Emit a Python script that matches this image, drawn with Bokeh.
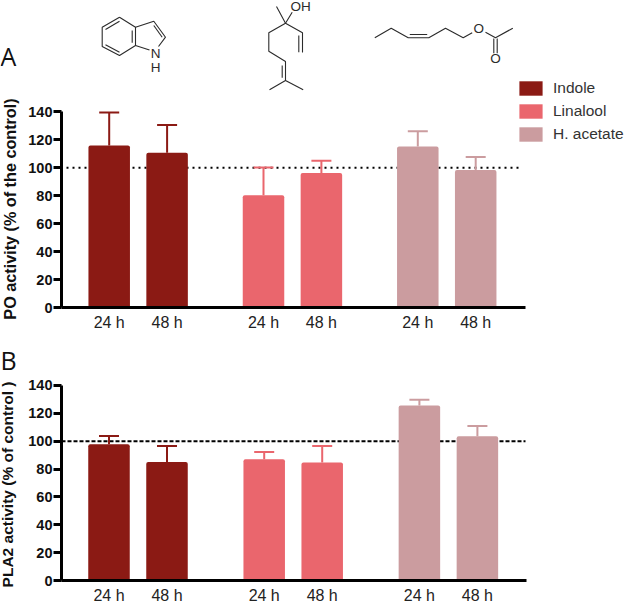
from math import pi
from bokeh.plotting import figure
from bokeh.layouts import column, row
from bokeh.models import Range1d, LinearAxis, FixedTicker, Legend, LegendItem
from bokeh.core.properties import value
from bokeh.embed import file_html
from bokeh.resources import INLINE

compounds = ["Indole", "Linalool", "H. acetate"]
times = ["24 h", "48 h"]
colors = ["#8B1A14", "#EA666D", "#CB9C9F"]
y_ticks = [0, 20, 40, 60, 80, 100, 120, 140]

po_mean = [[116.0, 110.7], [80.4, 96.3], [115.2, 98.5]]
po_upper = [[139.6, 130.7], [100.2, 105.0], [126.2, 107.8]]
pla2_mean = [[97.9, 85.0], [87.0, 84.7], [125.7, 103.6]]
pla2_upper = [[103.8, 96.5], [92.3, 96.5], [129.7, 111.0]]

panel_letters = ["A", "B"]
y_title_a = "PO activity (% of the control)"
y_title_b = "PLA2 activity (% of control )"

INK = "#2b2b2b"
SANS = "Liberation Sans"
LEFT_W = 25

# molecule drawings, in page pixels
indole_bonds = [
    [(119, 16.7), (101.7, 26.7), (101.7, 46), (119, 55), (135, 45), (135, 26.7), (119, 16.7)],
    [(135, 26.7), (153.3, 20.7), (165, 36.7), (158, 46)],
    [(135, 45), (149, 49.5)],
    [(119, 20.7), (105, 29), ],
    [(105, 44.3), (119, 51.7)],
    [(131.7, 30), (131.7, 42.3)],
    [(153.3, 25), (161.7, 36.7)],
]
indole_atoms = [("N", 155, 52.7), ("H", 155, 66.7)]
linalool_bonds = [
    [(276, 6), (285, 22.7), (302, 32.3), (302, 52)],
    [(291.7, 11.7), (285, 22.7), (268.3, 32.3), (268.3, 50.7), (285, 61), (285, 80), (269, 89.3)],
    [(285, 80), (302.7, 89.3)],
    [(298.3, 35), (298.3, 51.7)],
    [(281.7, 65), (281.7, 77.3)],
]
linalool_atoms = [("OH", 300, 6)]
acetate_bonds = [
    [(374.3, 37.3), (390.7, 27.7), (407.7, 37.3), (428.3, 37.3), (445, 27.7), (462.7, 37.3), (471.7, 32.3)],
    [(409.3, 34), (426.7, 34)],
    [(485, 31.7), (495, 37.3), (512.3, 27.7)],
    [(493.3, 38), (493.3, 52.7)],
    [(496.7, 38), (496.7, 52.7)],
]
acetate_atoms = [("O", 478.3, 28.3), ("O", 495, 58.3)]


def make_panel(means, uppers, height, bottom, px_per_unit, slot, gap, first, axis_end,
               line_start, line_end, dash):
    frame_h = height - bottom
    x0 = (61 - first) / slot
    x1 = (625 - first) / slot
    p = figure(width=625 - LEFT_W, height=height, output_backend="svg", toolbar_location=None,
               x_range=Range1d(x0, x1), y_range=Range1d(0, frame_h / px_per_unit),
               x_axis_location=None, y_axis_location=None,
               min_border_left=61 - LEFT_W, min_border_right=0, min_border_top=0, min_border_bottom=bottom,
               outline_line_color=None, background_fill_color="white")
    p.grid.visible = False
    p.extra_x_ranges["px"] = Range1d(61, 625)
    p.extra_y_ranges["py"] = Range1d(frame_h, 0)

    p.line([line_start, line_end], [100, 100], x_range_name="px", line_color="black",
           line_width=2, line_dash=dash)

    centers = []
    renderers = []
    for g, name in enumerate(compounds):
        xs = [first_x + g * gap / slot for first_x in (0, 1)]
        centers += xs
        tops = means[g]
        ups = uppers[g]
        p.segment(xs, tops, xs, ups, line_color=colors[g], line_width=2)
        p.segment([x - 10 / slot for x in xs], ups, [x + 10 / slot for x in xs], ups,
                  line_color=colors[g], line_width=2)
        r = p.vbar(x=xs, top=tops, bottom=0, width=41.5 / slot, fill_color=colors[g],
                   line_color=None, border_radius=2)
        renderers.append(r)

    yax = LinearAxis(ticker=FixedTicker(ticks=y_ticks), bounds=(0, 140))
    yax.axis_line_width = 3
    yax.axis_line_color = "black"
    yax.major_tick_line_width = 3
    yax.major_tick_line_color = "black"
    yax.major_tick_in = 0
    yax.major_tick_out = 8
    yax.minor_tick_line_color = None
    yax.major_label_standoff = 1
    yax.major_label_text_font = SANS
    yax.major_label_text_font_style = "bold"
    yax.major_label_text_font_size = "14.5px"
    yax.major_label_text_color = "#111111"
    p.add_layout(yax, "left")

    xax = LinearAxis(ticker=FixedTicker(ticks=centers),
                     major_label_overrides={c: times[i % 2] for i, c in enumerate(centers)},
                     bounds=(x0 - 9 / slot, (axis_end - first) / slot))
    xax.axis_line_width = 3
    xax.axis_line_color = "black"
    xax.major_tick_line_color = None
    xax.major_tick_in = 0
    xax.major_tick_out = 0
    xax.minor_tick_line_color = None
    xax.major_label_standoff = 6
    xax.major_label_text_font = SANS
    xax.major_label_text_font_size = "16px"
    xax.major_label_text_color = "#222222"
    p.add_layout(xax, "below")
    return p, renderers


def draw_molecule(p, bonds, atoms):
    p.multi_line([[q[0] for q in b] for b in bonds], [[q[1] for q in b] for b in bonds],
                 x_range_name="px", y_range_name="py", line_color=INK, line_width=1.1)
    for text, x, y in atoms:
        p.text([x], [y], text=[text], x_range_name="px", y_range_name="py",
               text_font=value(SANS), text_font_size="13.5px", text_color=INK,
               text_align="center", text_baseline="middle")


pa, rend = make_panel(po_mean, po_upper, 338, 31, 1.397, 57.9, 154.3, 108.7, 525, 66, 520, "2 4")
pb, _ = make_panel(pla2_mean, pla2_upper, 268, 22, 1.416, 58.0, 155.2, 108.5, 526, 61, 525, "4 2")

draw_molecule(pa, indole_bonds, indole_atoms)
draw_molecule(pa, linalool_bonds, linalool_atoms)
draw_molecule(pa, acetate_bonds, acetate_atoms)

legend = Legend(items=[LegendItem(label=n, renderers=[r]) for n, r in zip(compounds, rend)],
                location=(455, 164), orientation="vertical", border_line_color=None,
                background_fill_alpha=0, padding=0, margin=0, spacing=5,
                glyph_width=29, glyph_height=18, label_standoff=8, label_height=18,
                label_text_font=SANS, label_text_font_size="15.5px", label_text_color="#333333")
pa.add_layout(legend)

# narrow strip on the left for panel letters and the rotated y titles (page pixels)
strip = figure(width=LEFT_W, height=606, output_backend="svg", toolbar_location=None,
               x_range=Range1d(0, LEFT_W), y_range=Range1d(606, 0),
               x_axis_location=None, y_axis_location=None,
               min_border_left=0, min_border_right=0, min_border_top=0, min_border_bottom=0,
               outline_line_color=None)
strip.grid.visible = False
strip.text([8, 8], [55, 359], text=panel_letters, text_font=value("Open Sans"), text_font_size="25px",
           text_color="#111111", text_align="center", text_baseline="middle")
strip.text([9.5], [208.5], text=[y_title_a], angle=pi / 2, text_font=value(SANS),
           text_font_style="bold", text_font_size="16.2px", text_color="#111111",
           text_align="center", text_baseline="middle")
strip.text([7], [484], text=[y_title_b], angle=pi / 2, text_font=value(SANS),
           text_font_style="bold", text_font_size="15.5px", text_color="#111111",
           text_align="center", text_baseline="middle")

root = row(strip, column(pa, pb, spacing=0), spacing=0,
           styles={"position": "absolute", "left": "0px", "top": "0px"})
open("out.html", "w").write(file_html(root, INLINE))
